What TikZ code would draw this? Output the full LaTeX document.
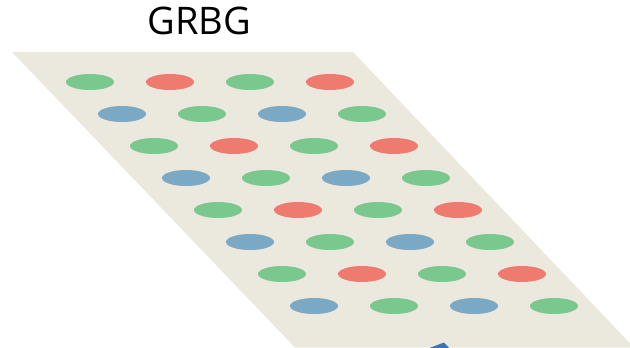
\documentclass[tikz,border=0pt]{standalone}
\usepackage{fontspec}
\setmainfont{Open Sans}
\usetikzlibrary{shapes.geometric}
\definecolor{plane}{HTML}{EBE8DE}
\definecolor{gc}{HTML}{7BC88F}
\definecolor{rc}{HTML}{EE7B6E}
\definecolor{bc}{HTML}{79A9C4}
\definecolor{arr}{HTML}{3F72B0}
\begin{document}
\begin{tikzpicture}[x=1pt,y=-1pt,
  dot/.style={ellipse,minimum width=48pt,minimum height=16pt,inner sep=0pt,draw=none},
  title/.style={font=\fontsize{38}{38}\selectfont,inner sep=0pt}]
\useasboundingbox (0,0) rectangle (630,348);
\clip (0,0) rectangle (630,348);
\fill[plane] (12,52) -- (353,52) -- (634,347.5) -- (295,347.5) -- cycle;
\node[title] (t) at (199.5,20.5) {GRBG};
\foreach \r in {1,...,8}{
  \foreach \c in {1,...,4}{
    \pgfmathtruncatemacro{\odd}{mod(\r,2)}
    \pgfmathtruncatemacro{\codd}{mod(\c,2)}
    \ifnum\odd=1
      \ifnum\codd=1 \def\col{gc}\else\def\col{rc}\fi
    \else
      \ifnum\codd=1 \def\col{bc}\else\def\col{gc}\fi
    \fi
    \node[dot,fill=\col] (d\r\c) at ({90+32*(\r-1)+80*(\c-1)},{82+32*(\r-1)}) {};
  }
}
\fill[arr] (430,347.8) -- (444,342.5) -- (449,347.8) -- cycle;
\end{tikzpicture}
\end{document}
